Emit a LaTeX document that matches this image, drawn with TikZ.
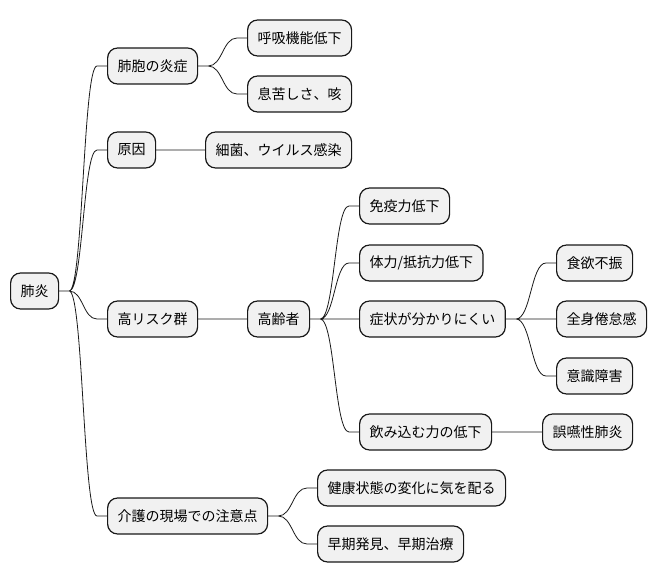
\documentclass[tikz,border=0pt]{standalone}
\usepackage{fontspec}
\setmainfont{Noto Sans CJK JP}
\usetikzlibrary{calc}
\definecolor{boxfill}{HTML}{F1F1F1}
\definecolor{boxline}{HTML}{181818}
\tikzset{
  topic/.style = {draw=boxline, fill=boxfill, line width=1.2pt, rounded corners=10pt,
    minimum height=36pt, inner xsep=10pt, anchor=west, font=\fontsize{14}{16}\selectfont},
  branch/.style = {to path={let \p1=(\tikztostart), \p2=(\tikztotarget) in
    -- (\x1+10pt,\y1) .. controls ({(\x1+\x2)/2},\y1) and ({(\x1+\x2)/2},\y2) .. (\x2-10pt,\y2) -- (\x2,\y2)}}
}
\begin{document}
\begin{tikzpicture}[x=1pt, y=-1pt]
\useasboundingbox (0,0) rectangle (656,583);
\path (10,291) node[topic] (pneumonia) {肺炎};
\path (107,66) node[topic] (alveoli) {肺胞の炎症};
\path (247,38) node[topic] (resp) {呼吸機能低下};
\path (247,94) node[topic] (breath) {息苦しさ、咳};
\path (107,150) node[topic] (cause) {原因};
\path (205,150) node[topic] (infect) {細菌、ウイルス感染};
\path (107,319) node[topic] (risk) {高リスク群};
\path (247,319) node[topic] (elderly) {高齢者};
\path (359,206) node[topic] (immune) {免疫力低下};
\path (359,263) node[topic] (stamina) {体力/抵抗力低下};
\path (359,319) node[topic] (symptom) {症状が分かりにくい};
\path (556,263) node[topic] (appetite) {食欲不振};
\path (556,319) node[topic] (fatigue) {全身倦怠感};
\path (556,376) node[topic] (conscious) {意識障害};
\path (359,432) node[topic] (swallow) {飲み込む力の低下};
\path (542,432) node[topic] (aspiration) {誤嚥性肺炎};
\path (107,516) node[topic] (care) {介護の現場での注意点};
\path (317,488) node[topic] (watch) {健康状態の変化に気を配る};
\path (317,544) node[topic] (early) {早期発見、早期治療};
\draw[boxline, line width=0.8pt] (pneumonia.east) to[branch] (alveoli.west)
  (pneumonia.east) to[branch] (cause.west)
  (pneumonia.east) to[branch] (risk.west)
  (pneumonia.east) to[branch] (care.west)
  (alveoli.east) to[branch] (resp.west)
  (alveoli.east) to[branch] (breath.west)
  (cause.east) to[branch] (infect.west)
  (risk.east) to[branch] (elderly.west)
  (elderly.east) to[branch] (immune.west)
  (elderly.east) to[branch] (stamina.west)
  (elderly.east) to[branch] (symptom.west)
  (elderly.east) to[branch] (swallow.west)
  (symptom.east) to[branch] (appetite.west)
  (symptom.east) to[branch] (fatigue.west)
  (symptom.east) to[branch] (conscious.west)
  (swallow.east) to[branch] (aspiration.west)
  (care.east) to[branch] (watch.west)
  (care.east) to[branch] (early.west);
\end{tikzpicture}
\end{document}
